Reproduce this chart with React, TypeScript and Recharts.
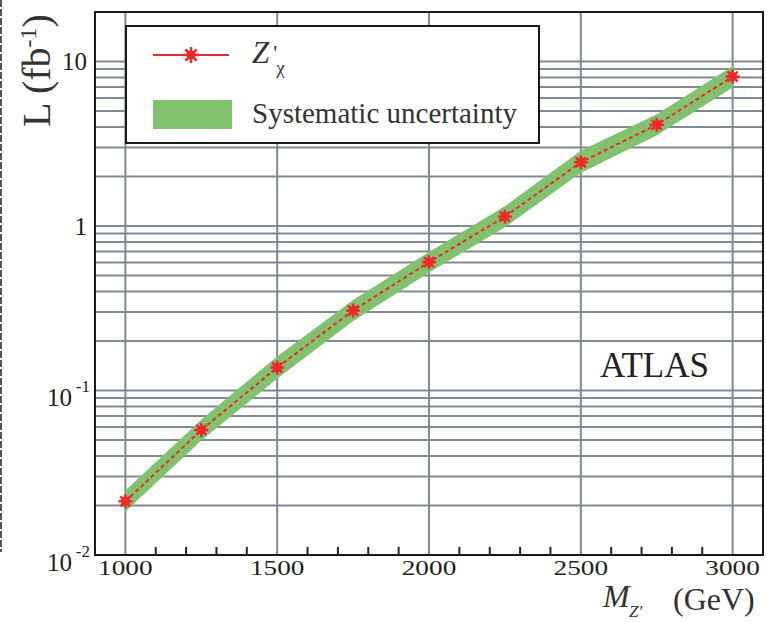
import { ComposedChart, Line, Area, XAxis, YAxis, CartesianGrid, ReferenceArea, ReferenceLine } from 'recharts';

const SERIF = '"Liberation Serif", "DejaVu Serif", serif';
const RED = '#f0282a';
const GREEN = '#80c26e';
const GRID = '#7f8a93';

// Z'chi mass points (GeV) and required luminosity (fb^-1)
const masses = [1000, 1250, 1500, 1750, 2000, 2250, 2500, 2750, 3000];
const lumi = [0.0212, 0.0575, 0.138, 0.306, 0.603, 1.14, 2.44, 4.12, 8.1];
const lumiLow = [0.0185, 0.05, 0.119, 0.266, 0.525, 0.99, 2.12, 3.58, 7.0];
const lumiHigh = [0.0245, 0.066, 0.16, 0.352, 0.69, 1.31, 2.85, 4.74, 9.3];

const majorX = [1000, 1500, 2000, 2500, 3000];
const minorX = [1100, 1200, 1300, 1400, 1600, 1700, 1800, 1900, 2100, 2200, 2300, 2400, 2600, 2700, 2800, 2900];
const yTicks = [
  0.01, 0.02, 0.03, 0.04, 0.05, 0.06, 0.07, 0.08, 0.09,
  0.1, 0.2, 0.3, 0.4, 0.5, 0.6, 0.7, 0.8, 0.9,
  1, 2, 3, 4, 5, 6, 7, 8, 9,
  10, 20,
];
const decadeLabels = new Map<number, [string, string]>([
  [0.01, ['10', '-2']],
  [0.1, ['10', '-1']],
  [1, ['1', '']],
  [10, ['10', '']],
]);
// top end of the small inward x ticks, in data units of the log axis
const MINOR_TICK_TOP = 0.0112;

const rows = masses.map((m, i) => ({ m, lumi: lumi[i], band: [lumiLow[i], lumiHigh[i]] }));

function Star({ cx, cy, r = 7 }: { cx: number; cy: number; r?: number }) {
  const d = r * 0.707;
  return (
    <g stroke={RED} strokeWidth={2.5}>
      <line x1={cx - r} y1={cy} x2={cx + r} y2={cy} />
      <line x1={cx} y1={cy - r} x2={cx} y2={cy + r} />
      <line x1={cx - d} y1={cy - d} x2={cx + d} y2={cy + d} />
      <line x1={cx - d} y1={cy + d} x2={cx + d} y2={cy - d} />
      <circle cx={cx} cy={cy} r={4.5} fill={RED} stroke="none" />
    </g>
  );
}

function XTick({ x, y, payload }: any) {
  return (
    <text x={x} y={y + 13} textAnchor="middle" dominantBaseline="central" fontSize={21} fontFamily={SERIF} fill="#222"
      transform={`translate(${x} 0) scale(1.3 1) translate(${-x} 0)`}>
      {payload.value}
    </text>
  );
}

function YTick({ x, y, payload }: any) {
  const lab = decadeLabels.get(payload.value);
  if (!lab) return null;
  const [base, exp] = lab;
  if (!exp) {
    return <text x={x - 8} y={y} textAnchor="end" dominantBaseline="central" fontSize={25} fontFamily={SERIF} fill="#222">{base}</text>;
  }
  return (
    <g fontFamily={SERIF} fill="#222">
      <text x={x - 23} y={y + 7} textAnchor="end" dominantBaseline="central" fontSize={25}>{base}</text>
      <text x={x - 5} y={y - 4} textAnchor="end" dominantBaseline="central" fontSize={17}>{exp}</text>
    </g>
  );
}

export default function App() {
  return (
    <div style={{ position: 'absolute', left: 0, top: 0, width: 766, height: 622, background: '#fff' }}>
      <ComposedChart width={766} height={622} data={rows} margin={{ top: 12, right: 3, left: 0, bottom: 0 }}>
        <CartesianGrid stroke={GRID} strokeWidth={2} verticalValues={majorX} />
        <XAxis dataKey="m" type="number" domain={[900, 3100]} allowDataOverflow ticks={majorX} interval={0}
          height={67} tickSize={0} tickMargin={0} tick={<XTick />} tickLine={false} axisLine={false} />
        <YAxis scale="log" type="number" domain={[0.01, 20]} allowDataOverflow ticks={yTicks} interval={0}
          width={95} tickSize={0} tickMargin={0} tickLine={false} tick={<YTick />} axisLine={false} />
        {minorX.map((v) => (
          <ReferenceLine key={v} segment={[{ x: v, y: 0.01 }, { x: v, y: MINOR_TICK_TOP }]} stroke="#222" strokeWidth={2} ifOverflow="visible" />
        ))}
        <Area dataKey="band" type="linear" fill={GREEN} fillOpacity={1} stroke={GREEN} strokeWidth={1} isAnimationActive={false} />
        <Line dataKey="lumi" type="linear" stroke={RED} strokeWidth={2} strokeDasharray="4 3" isAnimationActive={false}
          dot={(p: any) => <Star key={p.index} cx={p.cx} cy={p.cy} />} />
        <ReferenceArea x1={900} x2={3100} y1={0.01} y2={20} fill="none" stroke="#1a1a1a" strokeWidth={2} ifOverflow="visible" />
      </ComposedChart>
      <svg width={766} height={622} style={{ position: 'absolute', left: 0, top: 0, pointerEvents: 'none' }} fontFamily={SERIF}>
        <line x1={1} y1={0} x2={1} y2={552} stroke="#555" strokeWidth={2} strokeDasharray="7 2" />
        <rect x={126} y={26} width={413} height={117} fill="#fff" stroke="#1a1a1a" strokeWidth={2} />
        <line x1={153} y1={55} x2={229} y2={55} stroke={RED} strokeWidth={2} />
        <Star cx={191} cy={55} r={8} />
        <text x={252} y={63} fontSize={31} fill="#333">
          <tspan fontStyle="italic">Z</tspan>
          <tspan dx={4} dy={-3} fontSize={22}>'</tspan>
          <tspan dx={-1} dy={14} fontSize={19}>χ</tspan>
        </text>
        <rect x={153} y={100} width={79} height={29} fill={GREEN} />
        <text x={252} y={123} fontSize={29} fill="#333">Systematic uncertainty</text>
        <text x={600} y={377} fontSize={35} fill="#222">ATLAS</text>
        <text transform="translate(50 127) rotate(-90)" fontSize={40} fill="#333">
          L (fb<tspan dy={-14} fontSize={24}>-1</tspan><tspan dy={14}>)</tspan>
        </text>
        <text x={603} y={607} fontSize={32} fontStyle="italic" fill="#333">M</text>
        <text x={629} y={617} fontSize={17} fontStyle="italic" fill="#333">Z'</text>
        <text x={673} y={610} fontSize={32} fill="#333">(GeV)</text>
      </svg>
    </div>
  );
}
